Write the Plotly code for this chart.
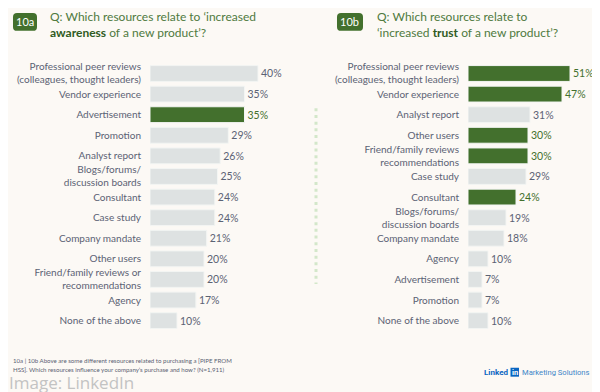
import plotly.graph_objects as go

# ---- data ----
left_labels = ["Professional peer reviews<br>(colleagues, thought leaders)", "Vendor experience", "Advertisement",
               "Promotion", "Analyst report", "Blogs/forums/<br>discussion boards", "Consultant", "Case study",
               "Company mandate", "Other users", "Friend/family reviews or<br>recommendations", "Agency",
               "None of the above"]
left_values = [40, 35, 35, 29, 26, 25, 24, 24, 21, 20, 20, 17, 10]
left_highlight = [False, False, True, False, False, False, False, False, False, False, False, False, False]

right_labels = ["Professional peer reviews<br>(colleagues, thought leaders)", "Vendor experience", "Analyst report",
                "Other users", "Friend/family reviews<br>recommendations", "Case study", "Consultant",
                "Blogs/forums/<br>discussion boards", "Company mandate", "Agency", "Advertisement",
                "Promotion", "None of the above"]
right_values = [51, 47, 31, 30, 30, 29, 24, 19, 18, 10, 7, 7, 10]
right_highlight = [True, True, False, True, True, False, True, False, False, False, False, False, False]

GREEN = "#43702d"
GREY_BAR = "#dee2e2"
TEXT = "#5b6274"
BG = "#fcf9f5"
FONT = "Lato"

# page offset of the figure inside the browser window
OX, OY = 8, 8
W, H = 600, 392


def px(x):
    return (x - OX) / W


def py(y):
    return 1 - (y - OY) / H


fig = go.Figure()


def add_panel(labels, values, hl, xa, ya, fsize):
    colors = [GREEN if h else GREY_BAR for h in hl]
    tcolors = [GREEN if h else TEXT for h in hl]
    fig.add_trace(go.Bar(
        x=values, y=labels, orientation="h", xaxis=xa, yaxis=ya,
        marker=dict(color=colors, line=dict(color="#f3f5f3", width=1)),
        width=0.77,
        text=[f"{v}%" for v in values], textposition="outside", constraintext="none",
        textfont=dict(color=tcolors, size=fsize, family=FONT),
        cliponaxis=False, showlegend=False, hoverinfo="skip"))


add_panel(left_labels, left_values, left_highlight, "x", "y", 10.5)
add_panel(right_labels, right_values, right_highlight, "x2", "y2", 10.5)

ydom = [py(330.4), py(60.6)]
yax = dict(autorange="reversed", showgrid=False, zeroline=False, showline=False,
           ticks="outside", ticklen=6, tickcolor="rgba(0,0,0,0)",
           tickfont=dict(size=10, color=TEXT, family=FONT), domain=ydom, type="category")
xax = dict(showgrid=False, zeroline=False, showline=False, showticklabels=False, fixedrange=True)

fig.update_layout(
    width=W, height=H, margin=dict(l=0, r=0, t=0, b=0),
    paper_bgcolor=BG, plot_bgcolor=BG,
    font=dict(family=FONT, color=TEXT),
    xaxis=dict(xax, domain=[px(150), px(300)], range=[0, 150 / 2.7]),
    xaxis2=dict(xax, domain=[px(468), px(592)], range=[0, 124 / 2.0]),
    yaxis=dict(yax, anchor="x"),
    yaxis2=dict(yax, anchor="x2"),
)

shapes = []
annotations = []


def conv(p):
    out = []
    for tok in p.split():
        if "," in tok:
            a, b = tok.split(",")
            out.append(f"{px(float(a)):.5f},{py(float(b)):.5f}")
        else:
            out.append(tok)
    return " ".join(out)


# badges
for (x0, x1, lab) in [(13, 37, "10a"), (337, 363, "10b")]:
    y0, y1, r = 10, 28, 4
    path = (f"M {x0+r},{y0} L {x1-r},{y0} Q {x1},{y0} {x1},{y0+r} L {x1},{y1-r} Q {x1},{y1} {x1-r},{y1} "
            f"L {x0+r},{y1} Q {x0},{y1} {x0},{y1-r} L {x0},{y0+r} Q {x0},{y0} {x0+r},{y0} Z")
    shapes.append(dict(type="path", xref="paper", yref="paper", path=conv(path),
                       fillcolor=GREEN, line=dict(width=0)))
    annotations.append(dict(x=px((x0 + x1) / 2), y=py((y0 + y1) / 2), xref="paper", yref="paper",
                            text=lab, showarrow=False, font=dict(size=11, color="white", family=FONT),
                            xanchor="center", yanchor="middle"))

TITLE_C = "#4f7a3e"
BOLD_C = "#2f5b22"
annotations.append(dict(x=px(48), y=py(21.5), xref="paper", yref="paper", xanchor="left", yanchor="middle",
                        align="left", showarrow=False, font=dict(size=12, color=TITLE_C, family=FONT),
                        text=f"Q: Which resources relate to ‘increased<br><b style='color:{BOLD_C}'>awareness</b> of a new product’?"))
annotations.append(dict(x=px(375), y=py(21.5), xref="paper", yref="paper", xanchor="left", yanchor="middle",
                        align="left", showarrow=False, font=dict(size=12, color=TITLE_C, family=FONT),
                        text=f"Q: Which resources relate to<br>‘increased <b style='color:{BOLD_C}'>trust</b> of a new product’?"))

# dotted divider
shapes.append(dict(type="line", xref="paper", yref="paper", x0=px(316), x1=px(316), y0=py(106), y1=py(283),
                   line=dict(color="#d3e7ca", width=3, dash="3px,3.7px")))

# footnote
annotations.append(dict(x=px(11), y=py(360.5), xref="paper", yref="paper", xanchor="left", yanchor="middle",
                        showarrow=False, font=dict(size=6.1, color=TEXT, family=FONT),
                        text="10a | 10b Above are some different resources related to purchasing a [PIPE FROM"))
annotations.append(dict(x=px(11), y=py(369), xref="paper", yref="paper", xanchor="left", yanchor="middle",
                        showarrow=False, font=dict(size=6.1, color=TEXT, family=FONT),
                        text="HSS]. Which resources influence your company’s purchase and how? (N=1,911)"))
# watermark
annotations.append(dict(x=px(8), y=py(382), xref="paper", yref="paper", xanchor="left", yanchor="middle",
                        showarrow=False, font=dict(size=17, color="#c3c3c3", family="Open Sans"),
                        borderpad=0, text="Image: LinkedIn"))
# logo
LX = -4
annotations.append(dict(x=px(514 + LX), y=py(372), xref="paper", yref="paper", xanchor="right", yanchor="middle",
                        showarrow=False, font=dict(size=8, color="#0a66c2", family="Roboto"),
                        text="<b>Linked</b>"))
shapes.append(dict(type="rect", xref="paper", yref="paper", x0=px(514.5 + LX), x1=px(523 + LX),
                   y0=py(376.5), y1=py(367.5), fillcolor="#0a66c2", line=dict(width=0)))
annotations.append(dict(x=px(518.8 + LX), y=py(372.3), xref="paper", yref="paper", xanchor="center",
                        yanchor="middle", showarrow=False, font=dict(size=7.5, color="white", family="Roboto"),
                        text="<b>in</b>"))
annotations.append(dict(x=px(524 + LX), y=py(372), xref="paper", yref="paper", xanchor="left", yanchor="middle",
                        showarrow=False, font=dict(size=7.6, color="#3d86c8", family="Roboto"),
                        text="Marketing Solutions"))

fig.update_layout(shapes=shapes, annotations=annotations)
fig.write_html("out.html")
